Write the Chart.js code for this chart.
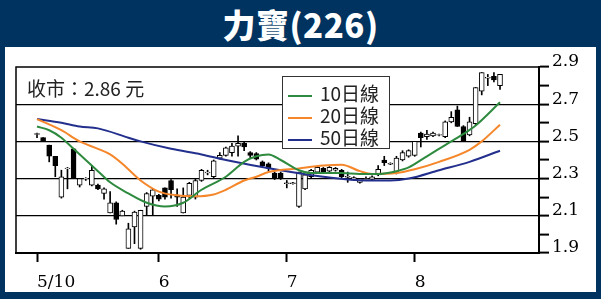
<!DOCTYPE html>
<html>
<head>
<meta charset="utf-8">
<script src="https://cdn.jsdelivr.net/npm/chart.js@4"></script>
<style>
  html, body { margin: 0; padding: 0; }
  body { width: 601px; height: 299px; background: #00335f; position: relative; overflow: hidden;
         font-family: "Noto Sans CJK TC", "Noto Sans", sans-serif; }
  #title { position: absolute; left: 0; top: 0; width: 601px; height: 47px; line-height: 48px;
           text-align: center; color: #fff; font-size: 33px; font-weight: 900; letter-spacing: 0.5px; }
  #panel { position: absolute; left: 5px; top: 47px; width: 591px; height: 245px; background: #fff; }
  #wrap { position: absolute; left: 0; top: 0; width: 601px; height: 299px; }
  #close { position: absolute; left: 27px; top: 74px; font-size: 19px; color: #222; white-space: nowrap; }
  #legend { position: absolute; left: 282px; top: 76px; width: 108px; height: 73px; box-sizing: border-box;
            border: 1px solid #333; background: #fff; padding-top: 5px; }
  #legend div { height: 22px; line-height: 22px; font-size: 19px; color: #222; white-space: nowrap; }
  #legend span { display: inline-block; width: 24px; height: 2px; margin: 0 8px 0 5px; vertical-align: middle; }
</style>
</head>
<body>
<div id="title">力寶(226)</div>
<div id="panel"></div>
<div id="wrap"><canvas id="c" width="601" height="299"></canvas></div>
<div id="close">收市：2.86 元</div>
<div id="legend"></div>
<script>
// trading days, index 0 = first day of May
const monthStarts = [0, 20, 41, 62];
const monthLabels = ['5/10', '6', '7', '8'];
const yTicks = [1.9, 2.1, 2.3, 2.5, 2.7, 2.9];

const open  = [2.54,2.52,2.48,2.42,2.20,2.355,2.46,2.265,2.30,2.265,2.265,2.22,2.115,2.17,2.10,1.925,2.04,1.925,2.15,2.205,
               2.21,2.25,2.29,2.21,2.115,2.21,2.20,2.29,2.33,2.31,2.41,2.425,2.44,2.475,2.49,2.44,2.435,2.39,2.38,2.33,
               2.33,2.275,2.275,2.15,2.245,2.31,2.335,2.355,2.34,2.345,2.345,2.31,2.295,2.28,2.295,2.295,2.32,2.40,2.38,2.33,
               2.40,2.42,2.425,2.545,2.525,2.53,2.535,2.525,2.605,2.67,2.58,2.535,2.595,2.77,2.84,2.85,2.80];
const high  = [2.545,2.52,2.48,2.42,2.345,2.36,2.46,2.30,2.305,2.37,2.27,2.25,2.23,2.175,2.13,2.06,2.125,2.13,2.225,2.245,
               2.215,2.25,2.295,2.245,2.25,2.28,2.30,2.35,2.345,2.40,2.44,2.47,2.49,2.53,2.50,2.445,2.44,2.395,2.385,2.335,
               2.335,2.29,2.28,2.335,2.32,2.35,2.365,2.36,2.365,2.36,2.35,2.335,2.31,2.30,2.31,2.315,2.37,2.42,2.385,2.42,
               2.45,2.455,2.50,2.55,2.56,2.55,2.54,2.61,2.66,2.69,2.585,2.63,2.79,2.87,2.86,2.87,2.86];
const low   = [2.52,2.50,2.39,2.31,2.195,2.245,2.30,2.255,2.29,2.26,2.24,2.19,2.115,2.055,2.10,1.925,1.95,1.92,2.105,2.105,
               2.18,2.19,2.195,2.15,2.115,2.195,2.19,2.285,2.32,2.30,2.405,2.42,2.42,2.42,2.45,2.41,2.40,2.365,2.34,2.295,
               2.295,2.25,2.27,2.145,2.24,2.305,2.33,2.33,2.335,2.34,2.30,2.28,2.29,2.275,2.29,2.29,2.315,2.37,2.375,2.325,
               2.395,2.415,2.42,2.47,2.51,2.525,2.53,2.52,2.60,2.58,2.50,2.53,2.59,2.75,2.80,2.82,2.78];
const close = [2.54,2.50,2.42,2.37,2.31,2.355,2.30,2.30,2.30,2.345,2.245,2.245,2.17,2.08,2.125,2.03,2.12,2.13,2.22,2.24,
               2.19,2.20,2.24,2.20,2.20,2.275,2.29,2.345,2.335,2.395,2.425,2.465,2.475,2.49,2.47,2.425,2.405,2.37,2.355,2.30,
               2.30,2.275,2.275,2.335,2.32,2.345,2.36,2.335,2.36,2.355,2.31,2.31,2.305,2.30,2.30,2.31,2.35,2.385,2.38,2.41,
               2.44,2.45,2.50,2.52,2.54,2.545,2.535,2.605,2.63,2.58,2.50,2.605,2.79,2.87,2.845,2.83,2.86];

// moving averages at these day indexes
const ma10Days = [0,2,4,6,8,10,12,15,18,21,24,27,31,34,36,38,40,43,45,50,53,56,59,61,64,67,70,72,76];
const ma10     = [2.58,2.56,2.52,2.46,2.40,2.34,2.28,2.22,2.17,2.15,2.17,2.24,2.31,2.39,2.42,2.43,2.40,2.345,2.33,2.33,2.325,2.325,2.34,2.36,2.42,2.48,2.54,2.585,2.71];
const ma20Days = [0,4,7,10,12,14,17,20,23,26,29,31,34,36,38,43,47,50,53,55,59,62,66,71,73,76];
const ma20     = [2.62,2.56,2.50,2.46,2.43,2.38,2.29,2.23,2.21,2.205,2.215,2.24,2.29,2.31,2.335,2.355,2.37,2.375,2.34,2.325,2.33,2.35,2.39,2.455,2.50,2.59];
const ma50Days = [0,4,7,10,15,17,22,27,31,39,47,54,58,61,66,71,76];
const ma50     = [2.62,2.60,2.58,2.57,2.52,2.50,2.46,2.43,2.40,2.35,2.31,2.29,2.29,2.30,2.345,2.39,2.45];

const maNames = ['10日線', '20日線', '50日線'];
const maColors = ['#2d8a3e', '#f5862a', '#222f8c'];

const wick = open.map((o, i) => ({ x: i, y: [low[i], high[i]] }));
const body = open.map((o, i) => {
  const lo = Math.min(o, close[i]), hi = Math.max(o, close[i]);
  return { x: i, y: hi - lo < 0.004 ? [lo - 0.002, hi + 0.002] : [lo, hi] };
});
const bodyFill = open.map((o, i) => close[i] >= o ? '#fff' : '#000');

const line = (days, vals, k) => ({
  type: 'line', label: maNames[k],
  data: days.map((d, j) => ({ x: d, y: vals[j] })),
  borderColor: maColors[k], borderWidth: 2, pointRadius: 0,
  cubicInterpolationMode: 'monotone', order: 0
});

const frame = {
  id: 'frame',
  afterDatasetsDraw(chart) {
    const { ctx, chartArea: a } = chart;
    ctx.save();
    ctx.strokeStyle = '#000';
    ctx.lineWidth = 1.5;
    ctx.strokeRect(a.left, a.top, a.right - a.left, a.bottom - a.top);
    ctx.restore();
  }
};

new Chart(document.getElementById('c'), {
  type: 'bar',
  data: {
    datasets: [
      line(ma10Days, ma10, 0),
      line(ma20Days, ma20, 1),
      line(ma50Days, ma50, 2),
      { label: 'body', data: body, backgroundColor: bodyFill, borderColor: '#000', borderWidth: 1,
        borderSkipped: false, barThickness: 5, grouped: false, order: 1 },
      { label: 'wick', data: wick, backgroundColor: '#000', borderWidth: 0,
        barThickness: 1, grouped: false, order: 2 }
    ]
  },
  options: {
    responsive: false,
    animation: false,
    devicePixelRatio: 1,
    layout: { padding: { left: 16, top: 67, right: 0, bottom: 0 } },
    plugins: { legend: { display: false }, tooltip: { enabled: false } },
    scales: {
      x: {
        type: 'linear', min: -3.45, max: 82.4, offset: false,
        afterBuildTicks: s => { s.ticks = monthStarts.map(v => ({ value: v })); },
        afterFit: s => { s.height = 46; },
        ticks: {
          autoSkip: false, maxRotation: 0, align: 'start', padding: 10, color: '#000',
          font: { family: 'DejaVu Serif', size: 17 },
          callback: v => monthLabels[monthStarts.indexOf(v)]
        },
        grid: { offset: false, drawOnChartArea: false, tickLength: 9, tickColor: '#000', tickWidth: 2 },
        border: { color: '#000', width: 2 }
      },
      y: {
        position: 'right', min: 1.9, max: 2.9,
        afterFit: s => { s.width = 62; },
        ticks: {
          stepSize: 0.1, padding: 3, labelOffset: -5, color: '#000', autoSkip: false,
          font: { family: 'DejaVu Serif', size: 17 },
          callback: v => {
            const t = yTicks.find(y => Math.abs(y - v) < 1e-6);
            return t === undefined ? '' : t.toFixed(1);
          }
        },
        grid: {
          color: c => [2.1, 2.3, 2.5, 2.7].some(y => Math.abs(y - c.tick.value) < 1e-6) ? '#000' : 'rgba(0,0,0,0)',
          lineWidth: 1.2, tickLength: 10, tickColor: '#000', tickWidth: 2
        },
        border: { color: '#000', width: 2 }
      }
    }
  },
  plugins: [frame]
});

document.getElementById('legend').innerHTML = maNames
  .map((n, k) => `<div><span style="background:${maColors[k]}"></span>${n}</div>`).join('');
</script>
</body>
</html>
